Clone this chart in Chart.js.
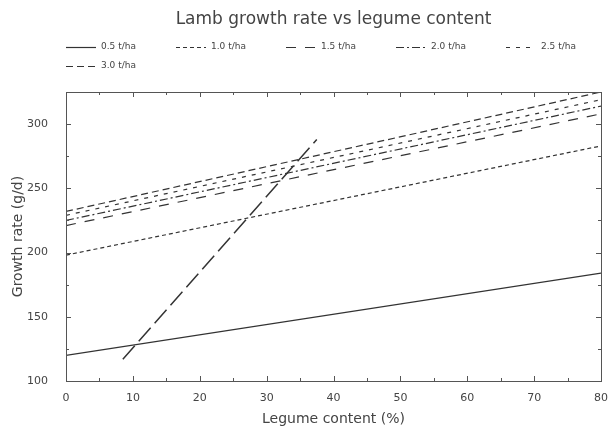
<!DOCTYPE html>
<html>
<head>
<meta charset="utf-8">
<script src="https://cdn.jsdelivr.net/npm/chart.js@4"></script>
<style>
  html, body { margin: 0; padding: 0; background: #fff; }
  #wrap { width: 612px; height: 433px; }
</style>
</head>
<body>
<div id="wrap"><canvas id="chart" width="612" height="433"></canvas></div>
<script>
// legume content (%) at the two ends of each fitted line
const legume = [0, 80];
const rate05 = [120, 184];
const rate10 = [198, 283];
const rate15 = [221, 308];
const rate20 = [225, 314];
const rate25 = [229, 319];
const rate30 = [232, 325];
// the steep long-dashed line (no legend entry)
const steepX = [8.5, 37.5];
const steepY = [117, 288];

const seriesNames = ["0.5 t/ha", "1.0 t/ha", "1.5 t/ha", "2.0 t/ha", "2.5 t/ha", "3.0 t/ha"];
const seriesValues = [rate05, rate10, rate15, rate20, rate25, rate30];
const dashes = [[], [4, 3], [10, 9], [8, 3, 2, 3], [4, 6], [7, 4]];
const titleText = "Lamb growth rate vs legume content";

const ink = "#333";
const txt = "#444";
const font = "'DejaVu Sans', sans-serif";

function pts(xs, ys) {
  return xs.map((x, i) => ({ x: x, y: ys[i] }));
}

const datasets = seriesNames.map((name, i) => ({
  label: name,
  data: pts(legume, seriesValues[i]),
  borderColor: ink,
  borderWidth: 1.2,
  borderDash: dashes[i],
  pointRadius: 0,
  fill: false,
}));
datasets.push({
  label: "",
  data: pts(steepX, steepY),
  borderColor: ink,
  borderWidth: 1.5,
  borderDash: [18, 6],
  pointRadius: 0,
  fill: false,
});

// box around the plot with inward ticks on all four sides
const frame = {
  id: "frame",
  afterDraw(chart) {
    const ctx = chart.ctx;
    const a = chart.chartArea;
    const xs = chart.scales.x;
    const ys = chart.scales.y;
    ctx.save();
    ctx.strokeStyle = "#555";
    ctx.lineWidth = 1;
    ctx.strokeRect(a.left + 0.5, a.top + 0.5, a.right - a.left, a.bottom - a.top);
    ctx.beginPath();
    const xt = xs.ticks.map((t) => t.value);
    xt.forEach((v, i) => {
      const p = Math.round(xs.getPixelForValue(v)) + 0.5;
      ctx.moveTo(p, a.bottom); ctx.lineTo(p, a.bottom - 5);
      ctx.moveTo(p, a.top); ctx.lineTo(p, a.top + 5);
      if (i < xt.length - 1) {
        const m = Math.round(xs.getPixelForValue((v + xt[i + 1]) / 2)) + 0.5;
        ctx.moveTo(m, a.bottom); ctx.lineTo(m, a.bottom - 3);
        ctx.moveTo(m, a.top); ctx.lineTo(m, a.top + 3);
      }
    });
    const yt = ys.ticks.map((t) => t.value);
    yt.forEach((v, i) => {
      const p = Math.round(ys.getPixelForValue(v)) + 0.5;
      ctx.moveTo(a.left, p); ctx.lineTo(a.left + 5, p);
      ctx.moveTo(a.right, p); ctx.lineTo(a.right - 5, p);
      const nv = i < yt.length - 1 ? (v + yt[i + 1]) / 2 : v + (v - yt[i - 1]) / 2;
      if (nv <= ys.max) {
        const m = Math.round(ys.getPixelForValue(nv)) + 0.5;
        ctx.moveTo(a.left, m); ctx.lineTo(a.left + 3, m);
        ctx.moveTo(a.right, m); ctx.lineTo(a.right - 3, m);
      }
    });
    ctx.stroke();
    ctx.restore();
  },
};

// title centred over the plot, legend rows under it
const header = {
  id: "header",
  afterDraw(chart) {
    const ctx = chart.ctx;
    const a = chart.chartArea;
    const step = 110;
    const perRow = 5;
    ctx.save();
    ctx.fillStyle = txt;
    ctx.textBaseline = "middle";
    ctx.textAlign = "center";
    ctx.font = "17px " + font;
    ctx.fillText(titleText, (a.left + a.right) / 2, 20);
    ctx.textAlign = "left";
    ctx.font = "9px " + font;
    seriesNames.forEach((name, i) => {
      const x = a.left + (i % perRow) * step;
      const y = 47 + Math.floor(i / perRow) * 19;
      ctx.beginPath();
      ctx.setLineDash(dashes[i]);
      ctx.strokeStyle = ink;
      ctx.lineWidth = 1.2;
      ctx.moveTo(x, y + 0.5);
      ctx.lineTo(x + 30, y + 0.5);
      ctx.stroke();
      ctx.setLineDash([]);
      ctx.fillText(name, x + 35, y);
    });
    ctx.restore();
  },
};

new Chart(document.getElementById("chart"), {
  type: "line",
  data: { datasets: datasets },
  plugins: [frame, header],
  options: {
    responsive: false,
    animation: false,
    layout: { padding: { left: 0, right: 11, top: 92, bottom: 0 } },
    plugins: {
      legend: { display: false },
      tooltip: { enabled: false },
      title: { display: false },
    },
    scales: {
      x: {
        type: "linear",
        min: 0,
        max: 80,
        afterFit(s) { s.height = 52; },
        grid: { display: false },
        border: { display: false },
        ticks: { stepSize: 10, color: txt, padding: 3, font: { family: font, size: 11 }, maxRotation: 0 },
        title: {
          display: true,
          text: "Legume content (%)",
          color: txt,
          font: { family: font, size: 14 },
          padding: { top: 0, bottom: 5 },
        },
      },
      y: {
        type: "linear",
        min: 100,
        max: 325,
        afterFit(s) { s.width = 66; },
        grid: { display: false },
        border: { display: false },
        ticks: { stepSize: 50, includeBounds: false, color: txt, padding: 10, font: { family: font, size: 11 } },
        title: {
          display: true,
          text: "Growth rate (g/d)",
          color: txt,
          font: { family: font, size: 14 },
          padding: { top: 10, bottom: 0 },
        },
      },
    },
  },
});
</script>
</body>
</html>
